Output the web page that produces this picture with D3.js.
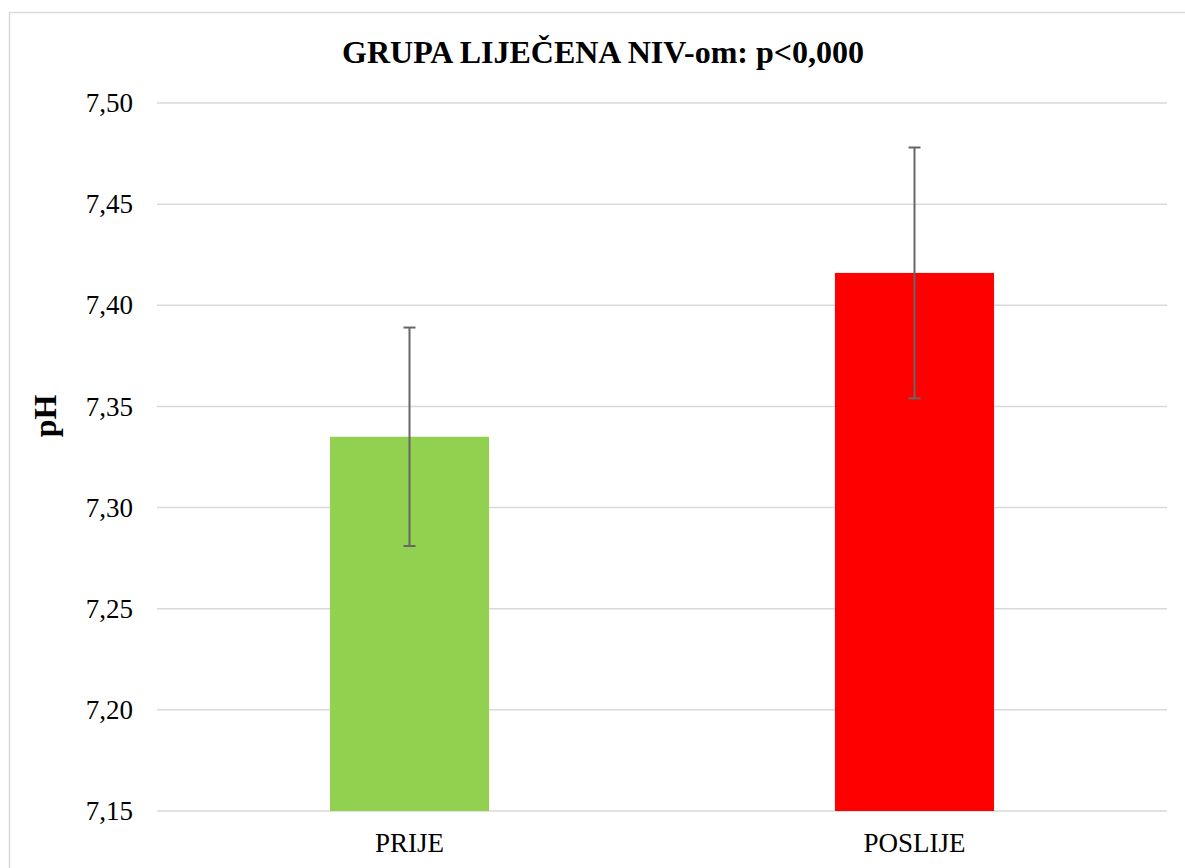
<!DOCTYPE html>
<html>
<head>
<meta charset="utf-8">
<script src="https://d3js.org/d3.v7.min.js"></script>
<style>
  body { margin: 0; background: #fff; }
  svg text { font-family: "Liberation Serif", "Times New Roman", serif !important; fill: #000; }
</style>
</head>
<body>
<script>
var categories = ["PRIJE", "POSLIJE"];
var means = [7.335, 7.416];
var errors = [0.054, 0.062];
var colors = ["#92d050", "#ff0000"];
var yTicks = [7.15, 7.20, 7.25, 7.30, 7.35, 7.40, 7.45, 7.50];

var width = 1185, height = 868;
var svg = d3.select("body").append("svg").attr("width", width).attr("height", height);

// chart frame (runs off the right and bottom edge in the reference)
svg.append("rect")
  .attr("x", 9.5).attr("y", 12.5)
  .attr("width", 1200).attr("height", 900)
  .style("fill", "none").style("stroke", "#d9d9d9").style("stroke-width", 1.5);

var x = d3.scaleBand().domain(categories).range([157, 1167]).paddingInner(0.685).paddingOuter(0.3425);
var y = d3.scaleLinear().domain([7.15, 7.50]).range([811, 103]);

// gridlines
svg.selectAll("line.grid").data(yTicks).enter().append("line")
  .attr("class", "grid")
  .attr("x1", 157).attr("x2", 1167)
  .attr("y1", function(d) { return y(d); })
  .attr("y2", function(d) { return y(d); })
  .style("stroke", "#d9d9d9").style("stroke-width", 1.5);

// y axis labels
var yAxis = d3.axisLeft(y).tickValues(yTicks).tickSize(0).tickPadding(24)
  .tickFormat(function(d) { return d3.format(".2f")(d).replace(".", ","); });
var gy = svg.append("g").attr("transform", "translate(157,0)").call(yAxis)
  .attr("font-family", null).attr("font-size", null);
gy.select(".domain").remove();
gy.selectAll("text").style("font-size", "27px").style("fill", "#000");

// bars
svg.selectAll("rect.bar").data(categories).enter().append("rect")
  .attr("class", "bar")
  .attr("x", function(d) { return x(d); })
  .attr("width", x.bandwidth())
  .attr("y", function(d, i) { return y(means[i]); })
  .attr("height", function(d, i) { return y(7.15) - y(means[i]); })
  .style("fill", function(d, i) { return colors[i]; });

// error bars
categories.forEach(function(c, i) {
  var cx = x(c) + x.bandwidth() / 2;
  var top = y(means[i] + errors[i]), bot = y(means[i] - errors[i]);
  svg.append("line").attr("x1", cx).attr("x2", cx).attr("y1", top).attr("y2", bot)
    .style("stroke", "#666").style("stroke-width", 2);
  [top, bot].forEach(function(v) {
    svg.append("line").attr("x1", cx - 6).attr("x2", cx + 6).attr("y1", v).attr("y2", v)
      .style("stroke", "#666").style("stroke-width", 2);
  });
});

// x axis labels
var xAxis = d3.axisBottom(x).tickSize(0).tickPadding(22);
var gx = svg.append("g").attr("transform", "translate(0,811)").call(xAxis)
  .attr("font-family", null).attr("font-size", null);
gx.select(".domain").remove();
gx.selectAll("text").style("font-size", "27px").style("fill", "#000");

// title
svg.append("text")
  .attr("x", 603).attr("y", 63)
  .attr("text-anchor", "middle")
  .style("font-size", "32px").style("font-weight", "bold")
  .text("GRUPA LIJEČENA NIV-om: p<0,000");

// y axis title
svg.append("text")
  .attr("transform", "translate(56,416) rotate(-90)")
  .attr("text-anchor", "middle")
  .style("font-size", "32px").style("font-weight", "bold")
  .text("pH");
</script>
</body>
</html>
